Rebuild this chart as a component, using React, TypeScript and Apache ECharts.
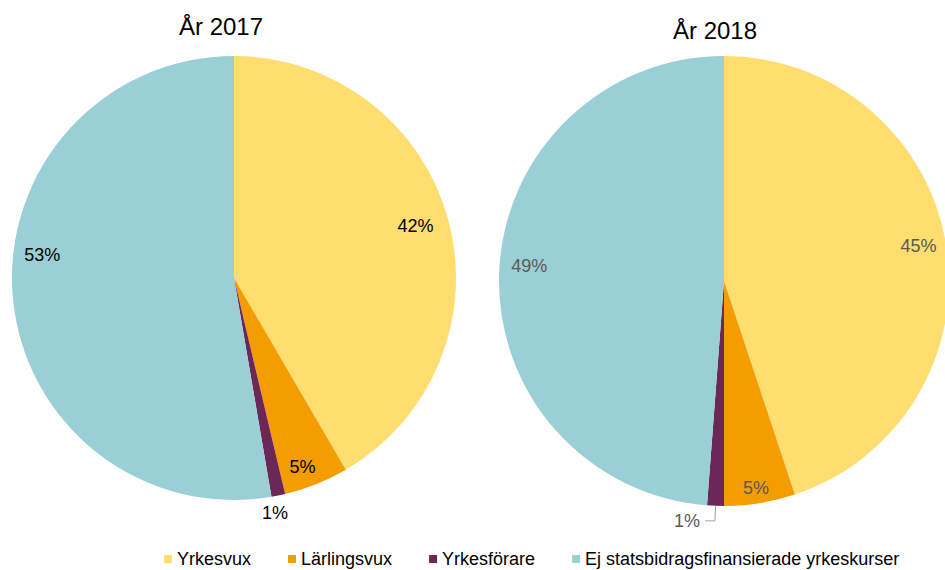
import React, { useEffect, useRef } from "react";
import * as echarts from "echarts";

const categories = ["Yrkesvux", "Lärlingsvux", "Yrkesförare", "Ej statsbidragsfinansierade yrkeskurser"];
const values2017 = [41.6, 4.7, 1.0, 52.7];
const values2018 = [44.9, 5.1, 1.2, 48.8];
const titles = ["År 2017", "År 2018"];
const colors = ["#FFDD6F", "#F49D00", "#6A2758", "#9ACFD6"];

const FONT = "'Liberation Sans', Arial, sans-serif";

function pctLabel(p: any) {
  return Math.round(p.percent) + "%";
}

export default function App() {
  const ref = useRef<HTMLDivElement>(null);
  useEffect(() => {
    if (!ref.current) return;
    const chart = echarts.init(ref.current, undefined, { renderer: "svg" });

    const baseData = (vals: number[]) =>
      categories.map((name, i) => ({ name, value: vals[i], itemStyle: { color: colors[i] } }));

    const overlayData = (vals: number[], textColor: string, leftSide: boolean) =>
      categories.map((name, i) => {
        const item: any = { name, value: vals[i] };
        if (i === 2) {
          item.label = { position: "outside", color: textColor };
          if (leftSide) {
            item.labelLine = { show: false, length: 18, length2: -25 };
          } else {
            item.labelLine = {
              show: true,
              length: 15,
              length2: 10,
              lineStyle: { color: "#A6A6A6", width: 1 },
            };
          }
        }
        return item;
      });

    const pie = (center: number[], radius: number, vals: number[]) => ({
      type: "pie",
      center,
      radius: [0, radius],
      startAngle: 90,
      clockwise: true,
      silent: true,
      label: { show: false },
      labelLine: { show: false },
      emphasis: { disabled: true },
      data: baseData(vals),
    });

    const overlay = (
      center: number[],
      radius: number,
      vals: number[],
      textColor: string,
      leftSide: boolean,
      shifts: number[][]
    ) => ({
      type: "pie",
      center,
      radius: [radius * 0.76, radius],
      startAngle: 90,
      clockwise: true,
      silent: true,
      itemStyle: { color: "rgba(0,0,0,0)" },
      emphasis: { disabled: true },
      label: {
        show: true,
        position: "inside",
        formatter: pctLabel,
        color: textColor,
        fontSize: 18,
        fontFamily: FONT,
      },
      labelLine: { show: false },
      avoidLabelOverlap: false,
      labelLayout: (p: any) => {
        const s = shifts[p.dataIndex];
        return s ? { dx: s[0], dy: s[1] } : {};
      },
      data: overlayData(vals, textColor, leftSide),
    });

    chart.setOption({
      animation: false,
      backgroundColor: "#ffffff",
      title: [
        {
          text: titles[0],
          left: 221,
          top: 14,
          textAlign: "center",
          padding: 0,
          textStyle: { fontSize: 24, fontWeight: "normal", color: "#000", fontFamily: FONT },
        },
        {
          text: titles[1],
          left: 715,
          top: 18,
          textAlign: "center",
          padding: 0,
          textStyle: { fontSize: 24, fontWeight: "normal", color: "#000", fontFamily: FONT },
        },
      ],
      legend: {
        data: categories,
        left: 164,
        top: 550,
        padding: 0,
        itemWidth: 8,
        itemHeight: 8,
        itemGap: 37,
        icon: "rect",
        selectedMode: false,
        textStyle: { fontSize: 18, color: "#000", fontFamily: FONT },
      },
      series: [
        pie([234, 278], 222, values2017),
        pie([724, 281], 225, values2018),
        overlay([234, 278], 222, values2017, "#000000", true, [[-10, 0], [-5, 5], null as any, [6, -40]]),
        overlay([724, 281], 225, values2018, "#595959", false, [[-4, -3], [0, 9], null as any, [6, -7]]),
      ],
    });
    return () => chart.dispose();
  }, []);
  return (
    <div
      ref={ref}
      style={{ position: "fixed", left: 0, top: 0, width: 945, height: 570, background: "#fff" }}
    />
  );
}
